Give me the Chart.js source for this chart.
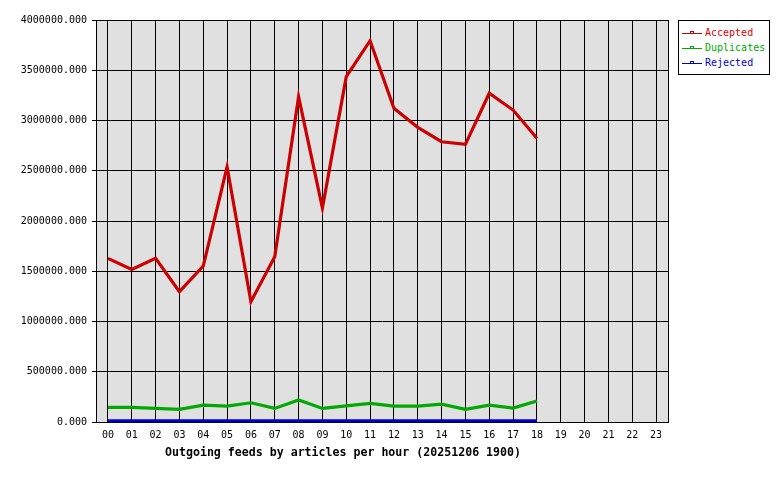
<!DOCTYPE html>
<html>
<head>
<meta charset="utf-8">
<script src="https://cdn.jsdelivr.net/npm/chart.js@4"></script>
<style>
  html, body { margin: 0; padding: 0; background: #fff; }
  #wrap { position: relative; width: 780px; height: 480px; }
  #cv { position: absolute; left: 18px; top: 0; }
  #legend {
    position: absolute; left: 678px; top: 20px; width: 92px; height: 55px;
    border: 1px solid #000; background: #fff;
    font: 10px "DejaVu Sans Mono", monospace; box-sizing: border-box; padding-top: 5px;
  }
  .li { position: relative; height: 15px; line-height: 14px; padding-left: 26px; white-space: nowrap; }
  .li .ln { position: absolute; left: 3px; top: 7px; width: 20px; height: 1px; }
  .li .mk { position: absolute; left: 11px; top: 5px; width: 2px; height: 1px; border: 1px solid; background: #fff; }
</style>
</head>
<body>
<div id="wrap">
  <canvas id="cv" width="670" height="480"></canvas>
  <div id="legend"></div>
</div>
<script>
// ============ DATA ============
const hours = ['00','01','02','03','04','05','06','07','08','09','10','11','12','13','14','15','16','17','18','19','20','21','22','23'];
const accepted = [1629000,1519000,1629000,1297000,1552000,2540000,1197000,1645000,3236000,2129000,3436000,3794000,3121000,2932000,2789000,2763000,3271000,3104000,2823000];
const duplicates = [146000,146000,136000,126000,169000,159000,192000,136000,219000,136000,162000,186000,159000,159000,179000,126000,169000,139000,209000];
const rejected = [12000,12000,12000,12000,12000,12000,12000,12000,12000,12000,12000,12000,12000,12000,12000,12000,12000,12000,12000];
const seriesNames = ['Accepted','Duplicates','Rejected'];
const lineColors = ['#cc0000','#00aa00','#0000cc'];
const textColors = ['#dd0000','#00aa00','#0000dd'];
const yTicks = [0,500000,1000000,1500000,2000000,2500000,3000000,3500000,4000000];
const titleText = 'Outgoing feeds by articles per hour (20251206 1900)';

const MONO = '"DejaVu Sans Mono", monospace';

// plot background + frame
const framePlugin = {
  id: 'frame',
  beforeDraw(chart) {
    const a = chart.chartArea, c = chart.ctx;
    c.save();
    c.fillStyle = '#e0e0e0';
    c.fillRect(a.left, a.top, a.right - a.left, a.bottom - a.top);
    c.restore();
  },
  afterDatasetsDraw(chart) {
    const a = chart.chartArea, c = chart.ctx;
    c.save();
    c.strokeStyle = '#000';
    c.lineWidth = 1;
    c.strokeRect(Math.round(a.left) + 0.5, Math.round(a.top) + 0.5, Math.round(a.right - a.left), Math.round(a.bottom - a.top));
    c.restore();
  }
};

new Chart(document.getElementById('cv'), {
  type: 'line',
  data: {
    labels: hours,
    datasets: [accepted, duplicates, rejected].map((d, i) => ({
      label: seriesNames[i],
      data: d,
      borderColor: lineColors[i],
      backgroundColor: lineColors[i],
      borderWidth: 3.2,
      pointRadius: 0,
      tension: 0,
      fill: false
    }))
  },
  options: {
    responsive: false,
    animation: false,
    events: [],
    layout: { padding: { top: 20, right: 20, bottom: 20, left: 0 } },
    plugins: {
      legend: { display: false },
      tooltip: { enabled: false },
      title: {
        display: true, position: 'bottom', text: titleText, color: '#000',
        font: { family: MONO, size: 11.6, weight: 'bold' }, padding: { top: 2, bottom: 0 }
      }
    },
    scales: {
      x: {
        offset: true,
        grid: { color: '#000', lineWidth: 1, offset: false, drawTicks: false },
        border: { color: '#000' },
        ticks: { color: '#000', font: { family: MONO, size: 10 }, padding: 7, maxRotation: 0, autoSkip: false },
        afterFit: s => { s.height = 22; }
      },
      y: {
        min: 0, max: 4000000,
        afterBuildTicks: s => { s.ticks = yTicks.map(v => ({ value: v })); },
        grid: { color: '#000', lineWidth: 1, tickLength: 4 },
        border: { color: '#000' },
        ticks: { color: '#000', font: { family: MONO, size: 10 }, padding: 5, callback: v => v.toFixed(3) },
        afterFit: s => { s.width = 78; }
      }
    }
  },
  plugins: [framePlugin]
});

// legend
document.getElementById('legend').innerHTML = seriesNames.map((n, i) =>
  `<div class="li" style="color:${textColors[i]}">
    <span class="ln" style="background:${lineColors[i]}"></span>
    <span class="mk" style="border-color:${lineColors[i]}"></span>${n}
  </div>`
).join('');
</script>
</body>
</html>
